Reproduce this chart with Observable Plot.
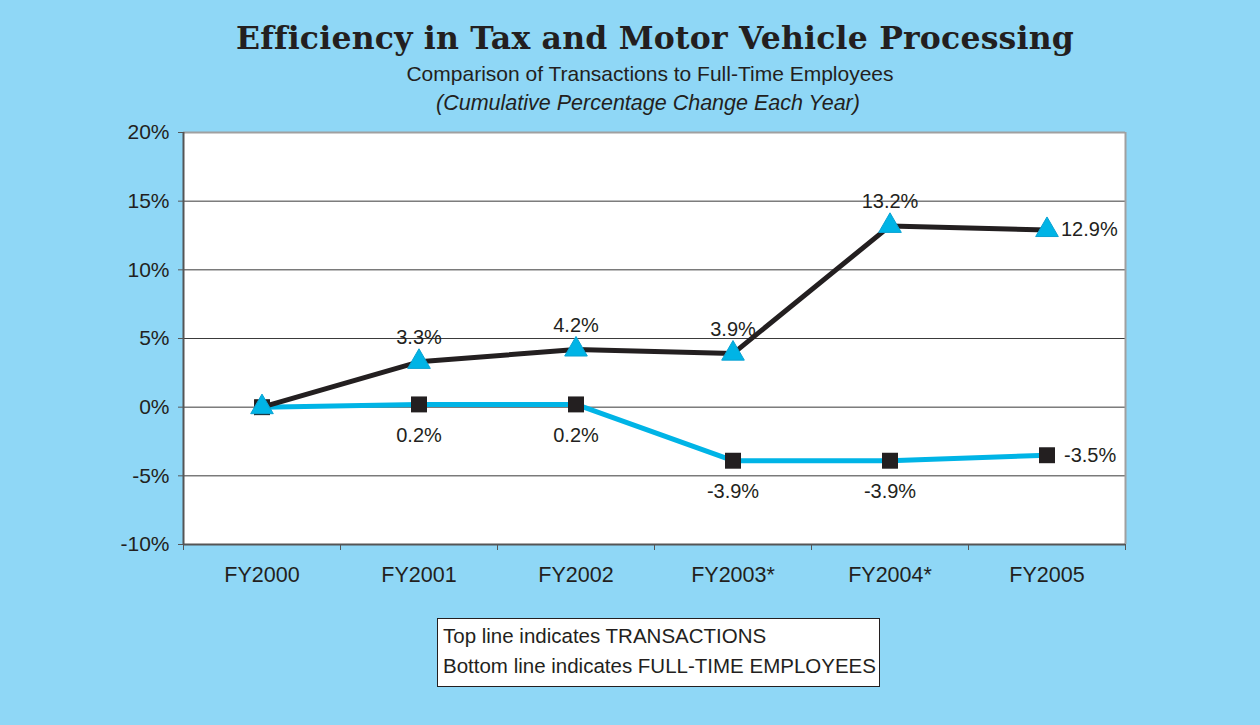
<!DOCTYPE html>
<html>
<head>
<meta charset="utf-8">
<script src="https://cdn.jsdelivr.net/npm/d3@7"></script>
<script src="https://cdn.jsdelivr.net/npm/@observablehq/plot@0.6"></script>
<style>
  html, body { margin: 0; padding: 0; }
  body { width: 1260px; height: 725px; background: #8fd7f6; overflow: hidden; }
  #wrap { position: relative; width: 1260px; height: 725px; background: #8fd7f6; font-family: "Liberation Sans", Arial, sans-serif; color: #231f20; }
  .title { position: absolute; left: 0; width: 1310px; top: 13px; text-align: center; font-family: "DejaVu Serif", serif; font-weight: bold; font-size: 31.5px; line-height: 50px; letter-spacing: 0.2px; }
  .sub1 { position: absolute; left: 0; width: 1300px; top: 61px; text-align: center; font-size: 21px; line-height: 26px; }
  .sub2 { position: absolute; left: 0; width: 1296px; top: 90px; text-align: center; font-size: 21.5px; font-style: italic; line-height: 26px; }
  #chart { position: absolute; left: 0; top: 120px; }
  .legend { position: absolute; left: 437px; top: 618px; width: 443px; height: 69px; background: #fff; border: 1.5px solid #231f20; box-sizing: border-box; font-size: 20.5px; line-height: 30px; padding: 2px 0 0 5px; white-space: nowrap; }
</style>
</head>
<body>
<div id="wrap">
  <div class="title">Efficiency in Tax and Motor Vehicle Processing</div>
  <div class="sub1">Comparison of Transactions to Full-Time Employees</div>
  <div class="sub2">(Cumulative Percentage Change Each Year)</div>
  <div id="chart"></div>
  <div class="legend">Top line indicates TRANSACTIONS<br>Bottom line indicates FULL-TIME EMPLOYEES</div>
</div>
<script>
const categories = ["FY2000", "FY2001", "FY2002", "FY2003*", "FY2004*", "FY2005"];
const transactions = [0, 3.3, 4.2, 3.9, 13.2, 12.9];
const employees = [0, 0.2, 0.2, -3.9, -3.9, -3.5];
const yTicks = [-10, -5, 0, 5, 10, 15, 20];

const BLACK = "#231f20";
const CYAN = "#00b4e6";

const trans = categories.map((c, i) => ({i, c, v: transactions[i]}));
const emp = categories.map((c, i) => ({i, c, v: employees[i]}));
const bounds = categories.map((c, i) => i - 0.5).concat([categories.length - 0.5]);
const last = categories.length - 1;
const fmt = v => v.toFixed(1) + "%";

const chart = Plot.plot({
  width: 1260,
  height: 480,
  marginLeft: 183,
  marginRight: 135,
  marginTop: 12,
  marginBottom: 56,
  style: {fontFamily: "'Liberation Sans', Arial, sans-serif", fontSize: "20px", color: BLACK, background: "transparent"},
  x: {type: "linear", domain: [-0.5, categories.length - 0.5]},
  y: {domain: [-10, 20]},
  marks: [
    Plot.frame({fill: "white", stroke: null}),
    Plot.ruleY(yTicks.filter(t => t > -10 && t < 20), {stroke: "#3a3a3a", strokeWidth: 1}),
    Plot.ruleY([20], {stroke: "#a0a0a0", strokeWidth: 2}),
    Plot.ruleX([categories.length - 0.5], {stroke: "#a0a0a0", strokeWidth: 2}),
    Plot.ruleX([-0.5], {stroke: "#555", strokeWidth: 2}),
    Plot.ruleY([-10], {stroke: "#555", strokeWidth: 2}),
    Plot.axisY({ticks: yTicks, tickSize: 5, tickPadding: 9, tickFormat: d => d + "%", fontSize: 21, stroke: "#555", label: null}),
    Plot.axisX({ticks: bounds, tickSize: 6, tickFormat: () => "", stroke: "#555", label: null}),
    Plot.axisX({ticks: categories.map((c, i) => i), tickSize: 0, tickPadding: 22, tickFormat: i => categories[i], fontSize: 21.5, label: null}),
    Plot.line(emp, {x: "i", y: "v", stroke: CYAN, strokeWidth: 5}),
    Plot.line(trans, {x: "i", y: "v", stroke: BLACK, strokeWidth: 5}),
    Plot.dot(emp, {x: "i", y: "v", symbol: "square", r: 9, fill: BLACK, stroke: null}),
    Plot.dot(trans, {x: "i", y: "v", symbol: "triangle", r: 8.4, fill: CYAN, stroke: "#0aa2d2", strokeWidth: 1}),
    Plot.text(trans.filter(d => d.i > 0 && d.i < last), {x: "i", y: "v", text: d => fmt(d.v), dy: -24, fontSize: 20, fill: BLACK}),
    Plot.text(trans.filter(d => d.i === last), {x: "i", y: "v", text: d => fmt(d.v), dx: 14, textAnchor: "start", fontSize: 20, fill: BLACK}),
    Plot.text(emp.filter(d => d.i > 0 && d.i < last), {x: "i", y: "v", text: d => fmt(d.v), dy: 31, fontSize: 20, fill: BLACK}),
    Plot.text(emp.filter(d => d.i === last), {x: "i", y: "v", text: d => fmt(d.v), dx: 17, textAnchor: "start", fontSize: 20, fill: BLACK})
  ]
});
document.getElementById("chart").appendChild(chart);
</script>
</body>
</html>
